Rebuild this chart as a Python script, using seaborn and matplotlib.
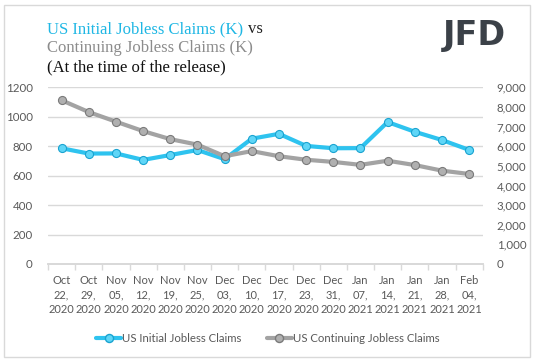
import numpy as np
import pandas as pd
import matplotlib
matplotlib.use("Agg")
import matplotlib.pyplot as plt
import seaborn as sns
from matplotlib.patches import Rectangle
from matplotlib.lines import Line2D
from matplotlib.ticker import FuncFormatter, FixedLocator

# data
dates = ["Oct\n22,\n2020", "Oct\n29,\n2020", "Nov\n05,\n2020", "Nov\n12,\n2020",
         "Nov\n19,\n2020", "Nov\n25,\n2020", "Dec\n03,\n2020", "Dec\n10,\n2020",
         "Dec\n17,\n2020", "Dec\n23,\n2020", "Dec\n31,\n2020", "Jan\n07,\n2021",
         "Jan\n14,\n2021", "Jan\n21,\n2021", "Jan\n28,\n2021", "Feb\n04,\n2021"]
initial_claims = [786, 750, 751, 707, 740, 774, 712, 851, 884, 802, 786, 787, 964, 898, 842, 775]
continuing_claims = [8340, 7740, 7250, 6770, 6360, 6080, 5490, 5750, 5490, 5310, 5200, 5050, 5260, 5040, 4755, 4585]

left_ticks = [0, 200, 400, 600, 800, 1000, 1200]
right_ticks = [0, 1000, 2000, 3000, 4000, 5000, 6000, 7000, 8000, 9000]

df = pd.DataFrame({"pos": np.arange(len(dates)),
                   "initial": initial_claims,
                   "continuing": continuing_claims})

sns.set_theme(style="white")
plt.rcParams['font.family'] = ['Lato', 'DejaVu Sans']

cyan = "#2EC3EF"
grey_line = "#A3A3A3"
tick_col = "#595959"
msize = 5.8

fig = plt.figure(figsize=(5.36, 3.62), dpi=100)
fig.patch.set_facecolor("white")
fig.patches.append(Rectangle((4 / 536, 1 - 357 / 362), 526 / 536, 352 / 362,
                             transform=fig.transFigure, fill=False,
                             edgecolor="#D9D9D9", linewidth=1))

ax = fig.add_axes([48 / 536, 1 - 264 / 362, 434.7 / 536, 176.7 / 362])
ax2 = ax.twinx()

sns.lineplot(data=df, x="pos", y="initial", ax=ax, color=cyan, linewidth=3,
             marker="o", markersize=msize, markerfacecolor="#5FD6F7",
             markeredgecolor="#1AA3D0", markeredgewidth=0.8, zorder=3)
sns.lineplot(data=df, x="pos", y="continuing", ax=ax2, color=grey_line, linewidth=3,
             marker="o", markersize=msize, markerfacecolor="#B0B0B0",
             markeredgecolor="#7A7A7A", markeredgewidth=0.8, zorder=3)

ax.set_ylim(0, 1200)
ax2.set_ylim(0, 9000)
ax.set_xlim(-0.5, len(dates) - 0.5)

ax.yaxis.set_major_locator(FixedLocator(left_ticks))
ax2.yaxis.set_major_locator(FixedLocator(right_ticks))
ax2.yaxis.set_major_formatter(FuncFormatter(lambda v, p: f"{int(v):,}"))

ax.set_xticks(df["pos"])
ax.set_xticklabels(dates, linespacing=1.4)
ax.set_xticks(np.arange(-0.5, len(dates)), minor=True)
ax.tick_params(axis="x", which="major", length=0, pad=8, labelsize=8, labelcolor=tick_col)
ax.tick_params(axis="x", which="minor", length=4, color="#D9D9D9", width=1, bottom=True)
ax.tick_params(axis="y", length=0, pad=11, labelsize=8.3, labelcolor=tick_col)
ax2.tick_params(axis="y", length=0, pad=10, labelsize=8.3, labelcolor=tick_col)

ax.grid(axis="y", color="#D9D9D9", linewidth=1)
ax.set_axisbelow(True)
for a in (ax, ax2):
    for s in ("top", "left", "right"):
        a.spines[s].set_visible(False)
    a.spines["bottom"].set_color("#D9D9D9")
    a.set_xlabel("")
    a.set_ylabel("")

handles = [Line2D([], [], color=cyan, linewidth=3, marker="o", markersize=msize,
                  markerfacecolor="#5FD6F7", markeredgecolor="#1AA3D0"),
           Line2D([], [], color=grey_line, linewidth=3, marker="o", markersize=msize,
                  markerfacecolor="#B0B0B0", markeredgecolor="#7A7A7A")]
leg = fig.legend(handles, ["US Initial Jobless Claims", "US Continuing Jobless Claims"],
                 loc="center", bbox_to_anchor=(0.5, 1 - 338 / 362), ncol=2,
                 frameon=False, fontsize=8.2, handlelength=2.2, handletextpad=0.1,
                 columnspacing=2.2)
for t in leg.get_texts():
    t.set_color(tick_col)

# title block
serif = ['Liberation Serif', 'DejaVu Serif']
x0 = 47 / 536
t1 = fig.text(x0, 1 - 33 / 362, "US Initial Jobless Claims (K)", color="#1FB7E4",
              fontsize=12, family=serif, va="baseline")
fig.canvas.draw()
bb = t1.get_window_extent()
fig.text(bb.x1 / 536 + 5 / 536, 1 - 33 / 362, "vs", color="#222222",
         fontsize=12, family=serif, va="baseline")
fig.text(x0, 1 - 52.5 / 362, "Continuing Jobless Claims (K)", color="#8C8C8C",
         fontsize=12, family=serif, va="baseline")
fig.text(x0, 1 - 71 / 362, "(At the time of the release)", color="#111111",
         fontsize=12, family=serif, va="baseline")

# logo
fig.text(474 / 536, 1 - 35.5 / 362, "JFD", color="#3B4148", fontsize=24,
         fontweight="bold", ha="center", va="center", family=['DejaVu Sans'])

fig.savefig("out.png", dpi=100, facecolor="white")
